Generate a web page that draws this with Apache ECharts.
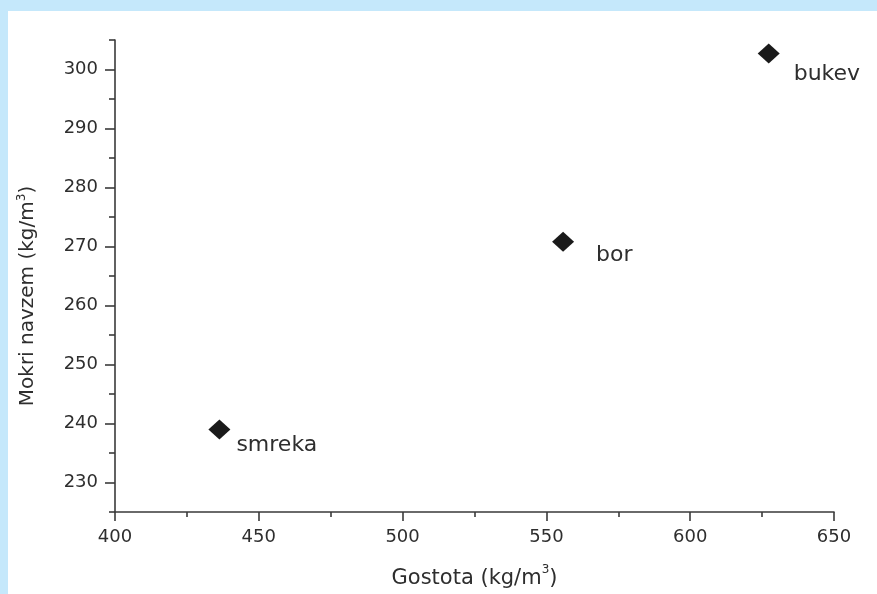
<!DOCTYPE html>
<html>
<head>
<meta charset="utf-8">
<script src="https://cdn.jsdelivr.net/npm/echarts@6/dist/echarts.min.js"></script>
<style>
html,body{margin:0;padding:0;background:#fff;}
#chart{width:877px;height:594px;}
</style>
</head>
<body>
<div id="chart"></div>
<script>
// ---- data ----
const species = ['smreka', 'bor', 'bukev'];
const density = [436.3, 555.8, 627.3];      // Gostota (kg/m3)
const wetVolume = [239.0, 270.8, 302.7];    // Mokri navzem (kg/m3)
const xTickLabels = [400, 450, 500, 550, 600, 650];
const yTickLabels = [230, 240, 250, 260, 270, 280, 290, 300];
const yMinorTicks = [225, 235, 245, 255, 265, 275, 285, 295, 305];

// ---- styling ----
const labelOffsets = [[1, 16], [17, 14], [9, 21]];
const textColor = '#2e2e2e';
const font = 'DejaVu Sans';

const chart = echarts.init(document.getElementById('chart'), null, {renderer: 'canvas'});

const points = species.map((name, i) => ({
  name: name,
  value: [density[i], wetVolume[i]],
  label: {offset: labelOffsets[i]}
}));

const supRich = {
  sup: {fontSize: 12, verticalAlign: 'top', lineHeight: 12, color: textColor, fontFamily: font}
};

chart.setOption({
  backgroundColor: '#ffffff',
  animation: false,
  graphic: [
    {type: 'rect', shape: {x: 0, y: 0, width: 877, height: 11}, style: {fill: '#c5e8fb'}, z: -10, silent: true},
    {type: 'rect', shape: {x: 0, y: 0, width: 8, height: 594}, style: {fill: '#c5e8fb'}, z: -10, silent: true}
  ],
  grid: {left: 115, right: 43, top: 40, bottom: 82, containLabel: false, outerBoundsMode: 'none'},
  xAxis: {
    type: 'value',
    min: 400, max: 650, interval: 50,
    name: 'Gostota (kg/m{sup|3})',
    nameLocation: 'middle',
    nameGap: 52,
    nameTextStyle: {fontSize: 21, color: textColor, fontFamily: font, lineHeight: 30, rich: supRich},
    axisLine: {show: true, lineStyle: {color: '#3a3a3a', width: 1.6}},
    axisTick: {show: true, length: 9, lineStyle: {color: '#3a3a3a', width: 1.6}},
    minorTick: {show: true, splitNumber: 2, length: 5, lineStyle: {color: '#3a3a3a', width: 1.6}},
    axisLabel: {
      fontSize: 18, color: textColor, fontFamily: font, margin: 16,
      customValues: xTickLabels
    },
    splitLine: {show: false},
    minorSplitLine: {show: false}
  },
  yAxis: [
    {
      type: 'value',
      min: 225, max: 305, interval: 5,
      position: 'left',
      name: 'Mokri navzem (kg/m{sup|3})',
      nameLocation: 'middle',
      nameGap: 75,
      nameTextStyle: {fontSize: 20, color: textColor, fontFamily: font, lineHeight: 24, padding: [0, 40, 0, 0], rich: supRich},
      axisLine: {show: true, lineStyle: {color: '#3a3a3a', width: 1.6}},
      axisTick: {show: true, length: 10, customValues: yTickLabels, lineStyle: {color: '#3a3a3a', width: 1.6}},
      axisLabel: {fontSize: 18, color: textColor, fontFamily: font, margin: 17, customValues: yTickLabels},
      splitLine: {show: false}
    },
    {
      type: 'value',
      min: 225, max: 305, interval: 5,
      position: 'left',
      offset: 0,
      axisLine: {show: false},
      axisTick: {show: true, length: 6, customValues: yMinorTicks, lineStyle: {color: '#3a3a3a', width: 1.6}},
      axisLabel: {show: false},
      splitLine: {show: false}
    }
  ],
  series: [{
    type: 'scatter',
    yAxisIndex: 0,
    symbol: 'diamond',
    symbolSize: [22, 20],
    itemStyle: {color: '#1a1a1a', opacity: 1},
    label: {
      show: true,
      position: 'right',
      formatter: '{b}',
      fontSize: 22,
      color: textColor,
      fontFamily: font
    },
    data: points
  }]
});
</script>
</body>
</html>
